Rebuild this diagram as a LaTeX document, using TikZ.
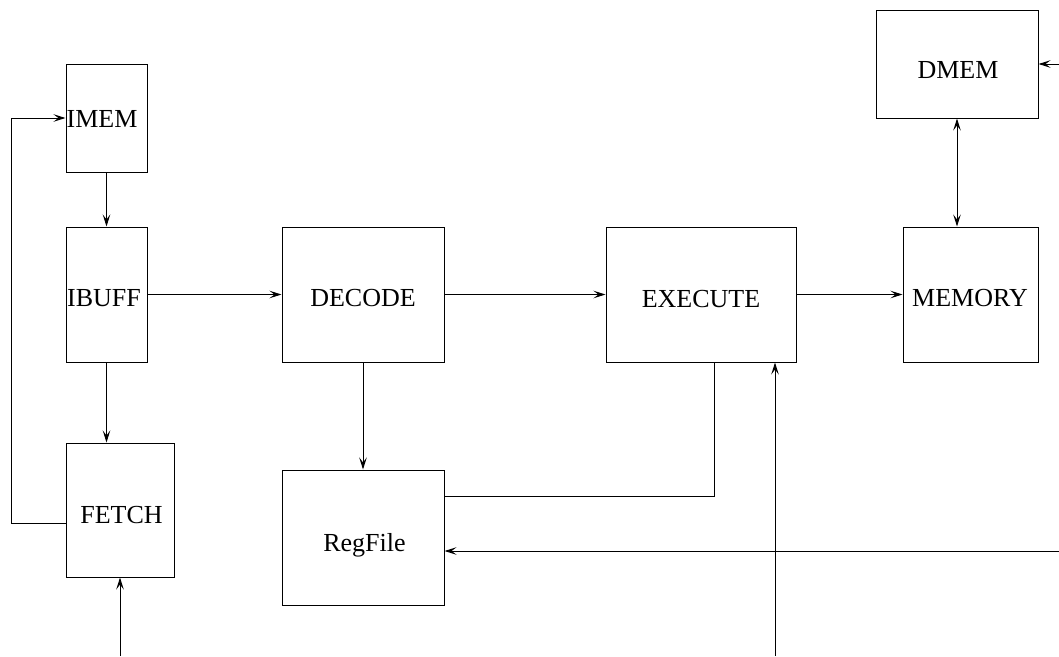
\documentclass[tikz,border=0pt]{standalone}
\usepackage{fontspec}
\setmainfont{Liberation Serif}
\usetikzlibrary{arrows.meta,calc}
\begin{document}
\begin{tikzpicture}[x=1pt,y=-1pt,
  unit/.style={draw,line width=1pt,inner sep=0pt,minimum width=#1},
  lbl/.style={anchor=base,inner sep=0pt,font=\fontsize{26}{30}\selectfont},
  wire/.style={line width=1pt},
  tip/.tip={Stealth[length=12pt,width=7.5pt,inset=5pt]},
  arr/.style={wire,-tip},
  barr/.style={wire,tip-tip}]
\useasboundingbox (0,0) rectangle (1059,656);

% pipeline blocks
\node[unit=81pt,minimum height=108pt]  (imem)    at (106.5,118)   {};
\node[unit=81pt,minimum height=135pt]  (ibuff)   at (106.5,294.5) {};
\node[unit=108pt,minimum height=134pt] (fetch)   at (120,510)     {};
\node[unit=162pt,minimum height=135pt] (decode)  at (363,294.5)   {};
\node[unit=162pt,minimum height=135pt] (regfile) at (363,537.5)   {};
\node[unit=190pt,minimum height=135pt] (execute) at (701,294.5)   {};
\node[unit=135pt,minimum height=135pt] (memory)  at (970.5,294.5) {};
\node[unit=162pt,minimum height=108pt] (dmem)    at (957,64)      {};

% block names
\node[lbl] (timem)    at (102,127)   {IMEM};
\node[lbl] (tibuff)   at (104,306)   {IBUFF};
\node[lbl] (tfetch)   at (121.5,523) {FETCH};
\node[lbl] (tdecode)  at (363,306)   {DECODE};
\node[lbl] (tregfile) at (364.5,551) {RegFile};
\node[lbl] (texecute) at (701,307)   {EXECUTE};
\node[lbl] (tmemory)  at (970,306)   {MEMORY};
\node[lbl] (tdmem)    at (958,78)    {DMEM};

% external inputs
\coordinate (fin)  at (120,656);
\coordinate (exin) at (775,656);
\coordinate (rfin) at (1059,551);
\coordinate (din)  at (1059,64);

% data paths
\draw[arr] (imem.south) -- (ibuff.north);
\draw[arr] (ibuff.east) -- (decode.west);
\draw[arr] (decode.east) -- (execute.west);
\draw[arr] (execute.east) -- (memory.west);
\draw[barr] (dmem.south) -- (dmem.south |- memory.north);
\draw[arr] (ibuff.south) -- (ibuff.south |- fetch.north);
\draw[arr] ($(fetch.west)+(0,13)$) -- ($(fetch.west)+(-54,13)$) |- (imem.west);
\draw[arr] (decode.south) -- (regfile.north);
\draw[wire] ($(execute.south)+(13,0)$) |- ($(regfile.east)+(0,-41)$);
\draw[arr] (rfin) -- (rfin -| regfile.east);
\draw[arr] (exin) -- (exin |- execute.south);
\draw[arr] (fin) -- (fetch.south);
\draw[arr] (din) -- (dmem.east);
\end{tikzpicture}
\end{document}
